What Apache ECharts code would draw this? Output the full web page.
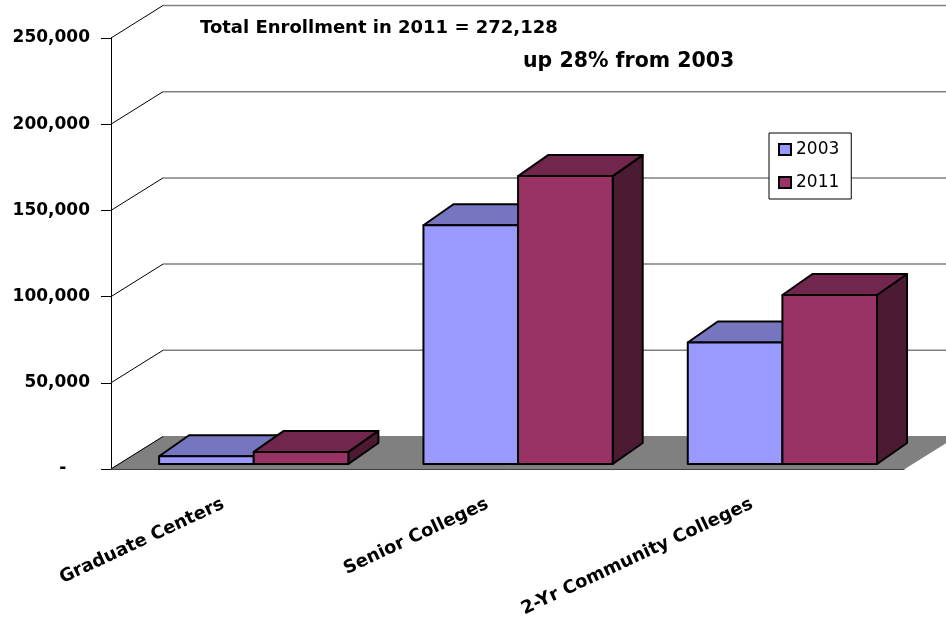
<!DOCTYPE html>
<html>
<head>
<meta charset="utf-8">
<script src="https://cdn.jsdelivr.net/npm/echarts@6/dist/echarts.min.js"></script>
<style>html,body{margin:0;padding:0;background:#fff}#c{width:946px;height:618px}</style>
</head>
<body>
<div id="c"></div>
<script>
// ---- data ----
var categories = ['Graduate Centers', 'Senior Colleges', '2-Yr Community Colleges'];
var years = ['2003', '2011'];
var values2003 = [4500, 138500, 70500];
var values2011 = [7000, 167000, 98000];
var yTicks = [0, 50000, 100000, 150000, 200000, 250000];
var titleLine1 = 'Total Enrollment in 2011 = 272,128';
var titleLine2 = 'up 28% from 2003';

// ---- styles ----
var FONT = 'DejaVu Sans';
var WALL = [52, -32.5];      // depth of floor / back wall
var BAR_DEPTH = [30, -21];   // depth of bar boxes
var BAR_FRONT_DY = -5;       // bar front face sits slightly inside the floor
var BAR_START = 0.182, BAR_W = 0.358;
var palette = {
  '2003': {front: '#9999FF', top: '#7676C0', side: '#5C5CA8'},
  '2011': {front: '#993366', top: '#73264D', side: '#4D1A33'}
};

function barRenderer(idx, col) {
  return function (params, api) {
    var cat = api.value(0), val = api.value(1);
    var base = api.coord([cat, 0]);
    var top = api.coord([cat, val]);
    var bw = api.size([1, 0])[0];
    var x0 = base[0] - bw / 2 + bw * (BAR_START + idx * BAR_W);
    var w = bw * BAR_W;
    var yb = base[1] + BAR_FRONT_DY, yt = top[1] + BAR_FRONT_DY;
    var dx = BAR_DEPTH[0], dy = BAR_DEPTH[1];
    var st = {stroke: '#000', lineWidth: 2, lineJoin: 'round'};
    return {
      type: 'group',
      children: [
        {type: 'polygon', shape: {points: [[x0 + w, yt], [x0 + w + dx, yt + dy], [x0 + w + dx, yb + dy], [x0 + w, yb]]},
          style: Object.assign({fill: col.side}, st)},
        {type: 'polygon', shape: {points: [[x0, yt], [x0 + w, yt], [x0 + w + dx, yt + dy], [x0 + dx, yt + dy]]},
          style: Object.assign({fill: col.top}, st)},
        {type: 'rect', shape: {x: x0, y: yt, width: w, height: yb - yt},
          style: Object.assign({fill: col.front}, st)}
      ]
    };
  };
}

function wallRenderer(params, api) {
  var cs = params.coordSys;
  var xl = cs.x, xr = cs.x + cs.width;
  var y0 = api.coord([0, 0])[1];
  var children = [];
  // floor
  children.push({type: 'polygon', shape: {points: [[xl, y0], [xr, y0], [xr + WALL[0], y0 + WALL[1]], [xl + WALL[0], y0 + WALL[1]]]},
    style: {fill: '#808080', stroke: '#808080', lineWidth: 1}});
  children.push({type: 'line', shape: {x1: xl, y1: y0, x2: xl + WALL[0], y2: y0 + WALL[1]}, style: {stroke: '#000', lineWidth: 1}});
  yTicks.forEach(function (v) {
    if (v === 0) return;
    var y = api.coord([0, v])[1];
    children.push({type: 'line', shape: {x1: xl + WALL[0], y1: y + WALL[1], x2: 960, y2: y + WALL[1]}, style: {stroke: '#808080', lineWidth: 1.5}});
    children.push({type: 'line', shape: {x1: xl, y1: y, x2: xl + WALL[0], y2: y + WALL[1]}, style: {stroke: '#000', lineWidth: 1}});
  });
  return {type: 'group', children: children};
}

var chart = echarts.init(document.getElementById('c'), null, {renderer: 'canvas'});
chart.setOption({
  animation: false,
  backgroundColor: '#fff',
  title: [
    {text: titleLine1, left: 200, top: 19, padding: 0,
      textStyle: {fontFamily: FONT, fontWeight: 'bold', fontSize: 18, color: '#000'}},
    {text: titleLine2, left: 523, top: 51, padding: 0,
      textStyle: {fontFamily: FONT, fontWeight: 'bold', fontSize: 20.5, color: '#000'}}
  ],
  legend: {
    data: years, orient: 'vertical', left: 769, top: 133,
    padding: [8, 12, 8, 9], itemGap: 16, itemWidth: 12, itemHeight: 11,
    icon: 'rect', backgroundColor: '#fff', borderColor: '#000', borderWidth: 1, borderRadius: 0,
    textStyle: {fontFamily: FONT, fontSize: 17, color: '#000'}
  },
  grid: {left: 111, right: 42, top: 38, bottom: 149, containLabel: false, outerBoundsMode: 'none'},
  xAxis: {
    type: 'category', data: categories,
    axisLine: {lineStyle: {color: '#000', width: 1}},
    axisTick: {length: 8, lineStyle: {color: '#000'}},
    axisLabel: {rotate: 25, margin: 25, padding: [0, 22, 0, 0], color: '#000', fontFamily: FONT, fontWeight: 'bold', fontSize: 18, interval: 0}
  },
  yAxis: {
    type: 'value', min: 0, max: 250000, interval: 50000,
    axisLine: {show: true, lineStyle: {color: '#000', width: 1}},
    axisTick: {show: true, length: 10, lineStyle: {color: '#000'}},
    splitLine: {show: false},
    axisLabel: {margin: 21, color: '#000', fontFamily: FONT, fontWeight: 'bold', fontSize: 17,
      formatter: function (v) { return v === 0 ? '-    ' : v.toLocaleString('en-US'); }}
  },
  series: [
    {type: 'custom', name: 'wall', renderItem: wallRenderer, data: [[0, 0]], clip: false, silent: true, z: 1},
    {type: 'custom', name: '2003', renderItem: barRenderer(0, palette['2003']), clip: false, z: 3,
      itemStyle: {color: palette['2003'].front, borderColor: '#000', borderWidth: 1},
      data: values2003.map(function (v, i) { return [i, v]; })},
    {type: 'custom', name: '2011', renderItem: barRenderer(1, palette['2011']), clip: false, z: 4,
      itemStyle: {color: palette['2011'].front, borderColor: '#000', borderWidth: 1},
      data: values2011.map(function (v, i) { return [i, v]; })}
  ]
});
</script>
</body>
</html>
